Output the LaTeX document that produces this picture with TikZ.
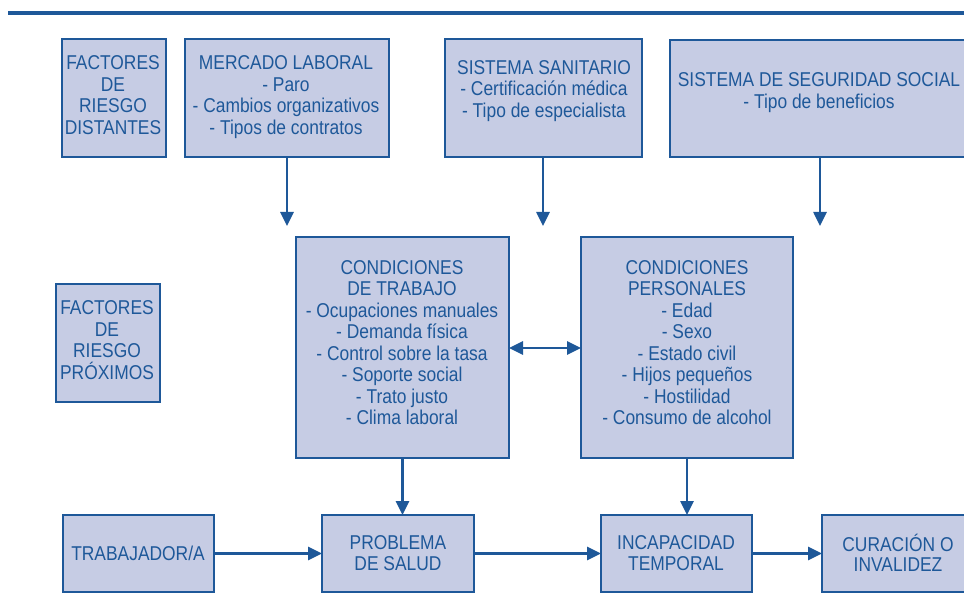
\documentclass[tikz,border=0pt]{standalone}
\usepackage{fontspec}
\setmainfont{Liberation Sans}[FakeStretch=0.87]
\usetikzlibrary{arrows.meta}
\definecolor{bblue}{RGB}{30,88,153}
\definecolor{bfill}{RGB}{198,204,228}
\tikzset{
  box/.style={draw=bblue, fill=bfill, line width=2.6pt, rectangle, inner sep=0pt, outer sep=0pt, anchor=north west},
  txt/.style={text=bblue, align=center, inner sep=0pt, font=\fontsize{20}{21.5}\selectfont},
  txtb/.style={text=bblue, align=center, inner sep=0pt, font=\fontsize{20}{20.5}\selectfont},
  arr/.style={draw=bblue, line width=2.6pt, -{Triangle[width=13pt,length=14pt]}},
  darr/.style={draw=bblue, line width=2.6pt, {Triangle[width=13pt,length=14pt]}-{Triangle[width=13pt,length=14pt]}}
}
\begin{document}
\begin{tikzpicture}[x=1pt,y=-1pt]
\useasboundingbox (0,0) rectangle (964,609);
\clip (0,0) rectangle (964,609);
\draw[bblue, line width=4pt] (8,13) -- (970,13);
% top row
\node[box, minimum width=104pt, minimum height=118pt] (fd) at (62,39) {};
\node[box, minimum width=204pt, minimum height=118pt] (ml) at (185,39) {};
\node[box, minimum width=197pt, minimum height=118pt] (ss) at (445,39) {};
\node[box, minimum width=305pt, minimum height=117pt] (sss) at (670,40) {};
\node[txt] (fdt) at (113,95) {FACTORES\\DE\\RIESGO\\DISTANTES};
\node[txt] (mlt) at (286,97) {MERCADO LABORAL\\- Paro\\- Cambios organizativos\\- Tipos de contratos};
\node[txt] (sst) at (544,91) {SISTEMA SANITARIO\\- Certificación médica\\- Tipo de especialista};
\node[txt] (ssst) at (819,92.5) {SISTEMA DE SEGURIDAD SOCIAL\\- Tipo de beneficios};
% middle row
\node[box, minimum width=104pt, minimum height=118pt] (fp) at (56,284) {};
\node[box, minimum width=213pt, minimum height=221pt] (ct) at (296,237) {};
\node[box, minimum width=212pt, minimum height=221pt] (cp) at (581,237) {};
\node[txt] (fpt) at (107,340) {FACTORES\\DE\\RIESGO\\PRÓXIMOS};
\node[txt] (ctt) at (402,342.5) {CONDICIONES\\DE TRABAJO\\- Ocupaciones manuales\\- Demanda física\\- Control sobre la tasa\\- Soporte social\\- Trato justo\\- Clima laboral};
\node[txt] (cpt) at (687,342.5) {CONDICIONES\\PERSONALES\\- Edad\\- Sexo\\- Estado civil\\- Hijos pequeños\\- Hostilidad\\- Consumo de alcohol};
% bottom row
\node[box, minimum width=151pt, minimum height=77pt] (tr) at (63,515) {};
\node[box, minimum width=152pt, minimum height=77pt] (ps) at (322,515) {};
\node[box, minimum width=151pt, minimum height=77pt] (it) at (601,515) {};
\node[box, minimum width=160pt, minimum height=77pt] (ci) at (822,515) {};
\node[txtb] (trt) at (138,553) {TRABAJADOR/A};
\node[txtb] (pst) at (398,553) {PROBLEMA\\DE SALUD};
\node[txtb] (itt) at (676,553) {INCAPACIDAD\\TEMPORAL};
\node[txtb] (cit) at (898,553) {CURACIÓN O\\INVALIDEZ};
% arrows
\coordinate (a1) at (287,226);
\coordinate (a2) at (543,226);
\coordinate (a3) at (820,226);
\draw[arr] (a1 |- ml.south) -- (a1);
\draw[arr] (a2 |- ss.south) -- (a2);
\draw[arr] (a3 |- sss.south) -- (a3);
\draw[darr] (ct.east |- 0,348) -- (cp.west |- 0,348);
\draw[arr] (ct.south) -- (ct.south |- ps.north);
\draw[arr] (cp.south) -- (cp.south |- it.north);
\draw[arr] (tr.east) -- (ps.west);
\draw[arr] (ps.east) -- (it.west);
\draw[arr] (it.east) -- (ci.west);
\end{tikzpicture}
\end{document}
